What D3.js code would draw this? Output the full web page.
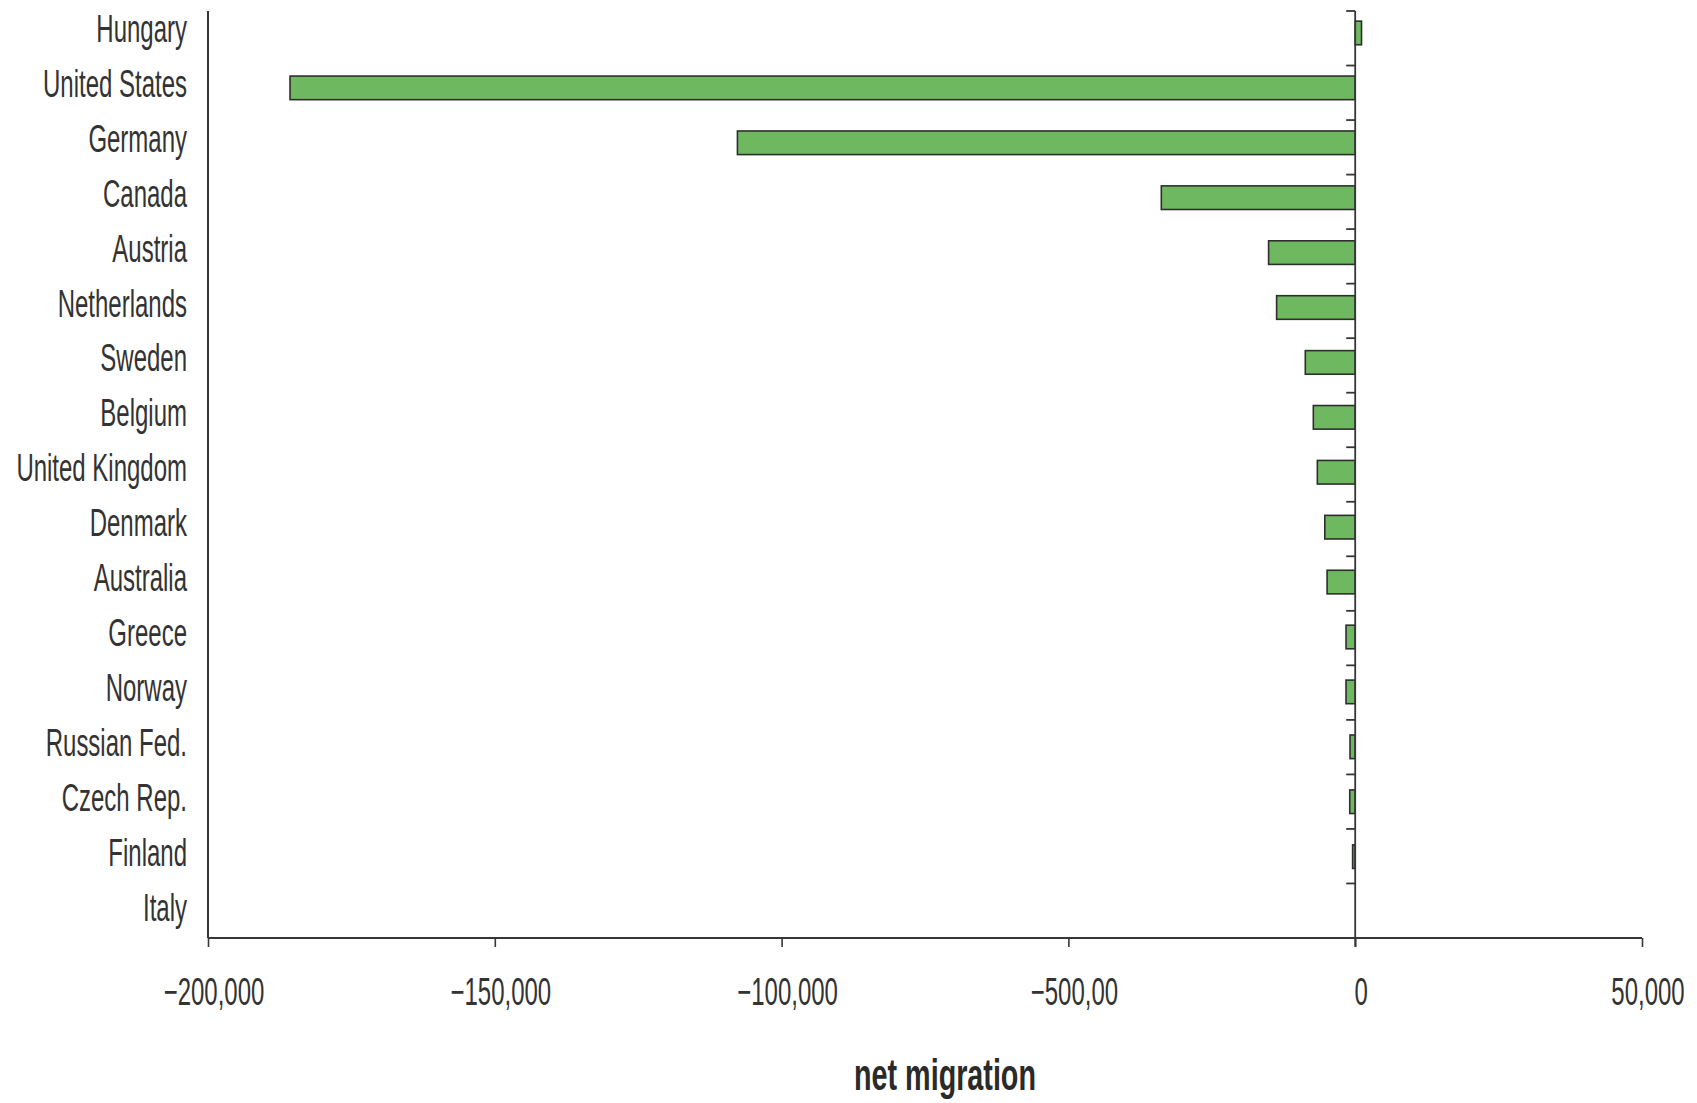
<!DOCTYPE html>
<html>
<head>
<meta charset="utf-8">
<script src="https://cdn.jsdelivr.net/npm/d3@7"></script>
<style>
  html, body { margin: 0; padding: 0; background: #ffffff; }
  svg { display: block; }
  text { font-family: "Liberation Sans Narrow", "Liberation Sans", Arial, sans-serif; fill: #333333; }
</style>
</head>
<body>
<svg id="chart" width="1697" height="1103"></svg>
<script>
// ---- data ----
const countries = ["Hungary", "United States", "Germany", "Canada", "Austria", "Netherlands",
  "Sweden", "Belgium", "United Kingdom", "Denmark", "Australia", "Greece", "Norway",
  "Russian Fed.", "Czech Rep.", "Finland", "Italy"];
const netMigration = [1100, -185700, -107700, -33800, -15100, -13700,
  -8700, -7300, -6600, -5300, -4900, -1600, -1600,
  -900, -950, -450, 0];
const xTickValues = [-200000, -150000, -100000, -50000, 0, 50000];
const xTickLabels = ["\u2212200,000", "\u2212150,000", "\u2212100,000", "\u2212500,00", "0", "50,000"];
const axisTitle = "net migration";

(function () {
// ---- layout ----
const svg = d3.select("#chart");
const mLeft = 208, mRight = 1642, mTop = 11, mBottom = 938;
const lineColor = "#363636";

const x = d3.scaleLinear().domain([-200000, 50000]).range([mLeft, mRight]);
const yBar = d3.scaleBand().domain(countries).range([5.5, 939]);
const yTick = d3.scaleBand().domain(countries).range([mTop, mBottom]);

// font calibration (condensed look)
function measure(str, size, weight) {
  const t = svg.append("text").attr("font-size", size).attr("font-weight", weight).text(str);
  const w = t.node().getComputedTextLength();
  t.remove();
  return w;
}
const fs = 38;
const sx = 144 / measure("United States", fs, "normal");
const sxBold = 182 / measure(axisTitle, 44, "bold");

// bars
const barH = yBar.bandwidth() * 0.43;
svg.append("g").selectAll("rect").data(countries).join("rect")
  .attr("x", (d, i) => Math.min(x(netMigration[i]), x(0)))
  .attr("width", (d, i) => Math.abs(x(netMigration[i]) - x(0)))
  .attr("y", d => yBar(d) + yBar.bandwidth() / 2 - barH / 2)
  .attr("height", barH)
  .attr("fill", (d, i) => netMigration[i] === 0 ? "none" : "#6eb95f")
  .attr("stroke", (d, i) => netMigration[i] === 0 ? "none" : "#2e2e2e")
  .attr("stroke-width", 1.6);

// left axis line
svg.append("line").attr("x1", mLeft).attr("x2", mLeft).attr("y1", mTop).attr("y2", mBottom)
  .attr("stroke", lineColor).attr("stroke-width", 2);

// x axis
const xAxis = d3.axisBottom(x).tickValues(xTickValues).tickSize(9).tickFormat("");
const gx = svg.append("g").attr("transform", `translate(0,${mBottom})`).call(xAxis);
gx.select(".domain").attr("stroke", lineColor).attr("stroke-width", 2)
  .attr("d", `M${mLeft},0H${mRight}`);
gx.selectAll(".tick line").attr("stroke", lineColor).attr("stroke-width", 1.6);

// x tick labels
svg.append("g").selectAll("g").data(xTickValues).join("g")
  .attr("transform", (d) => `translate(${x(d) + 6},1005) scale(${sx},1)`)
  .append("text")
  .attr("text-anchor", "middle")
  .attr("font-size", fs)
  .text((d, i) => xTickLabels[i]);

// zero line with category ticks
const yAxis = d3.axisLeft(yTick).tickSize(9).tickFormat("");
const gy = svg.append("g").attr("transform", `translate(${x(0)},0)`).call(yAxis);
gy.select(".domain").attr("stroke", lineColor).attr("stroke-width", 1.8)
  .attr("d", `M0,${mTop}V${mBottom + 9}`);
gy.selectAll(".tick").attr("transform", d => `translate(0,${yTick(d)})`);
gy.selectAll(".tick line").attr("stroke", lineColor).attr("stroke-width", 1.8);

// category labels
svg.append("g").selectAll("g").data(countries).join("g")
  .attr("transform", d => `translate(187,${yBar(d) + yBar.bandwidth() / 2 + 9}) scale(${sx},1)`)
  .append("text")
  .attr("text-anchor", "end")
  .attr("font-size", fs)
  .text(d => d);

// axis title
svg.append("g")
  .attr("transform", `translate(945,1090) scale(${sxBold},1)`)
  .append("text")
  .attr("text-anchor", "middle")
  .attr("font-size", 44)
  .attr("font-weight", "bold")
  .style("fill", "#2a2a2a")
  .text(axisTitle);
})();
</script>
</body>
</html>
